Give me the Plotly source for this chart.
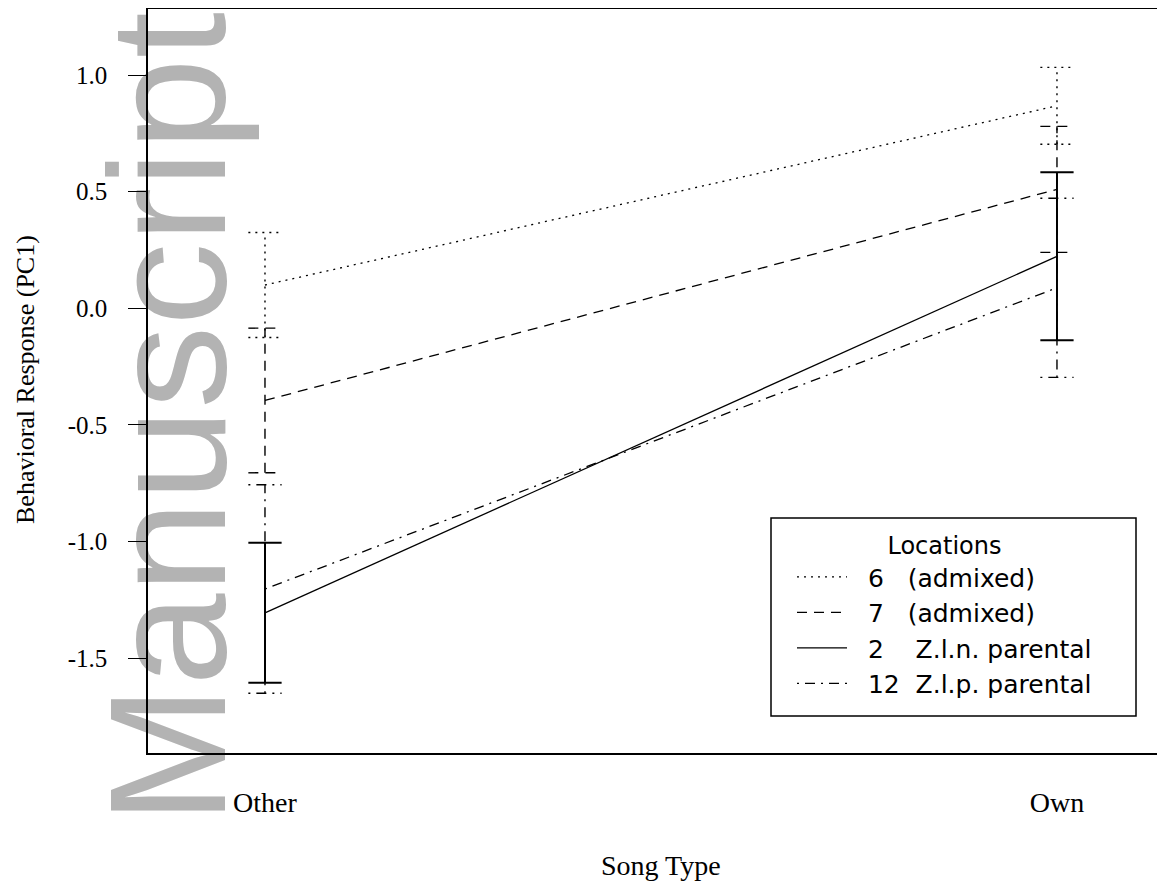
import plotly.graph_objects as go

# ---- data ----
song_types = ["Other", "Own"]
x_pos = [1, 2]
series_names = ["\u00a0\u00a06\u00a0\u00a0\u00a0(admixed)",
                "\u00a0\u00a07\u00a0\u00a0\u00a0(admixed)",
                "\u00a0\u00a02\u00a0\u00a0\u00a0\u00a0Z.l.n. parental",
                "\u00a0\u00a012\u00a0\u00a0Z.l.p. parental"]
loc6_mean = [0.10, 0.868]
loc6_err = [0.225, 0.165]
loc7_mean = [-0.395, 0.51]
loc7_err = [0.31, 0.27]
loc2_mean = [-1.305, 0.223]
loc2_err = [0.30, 0.36]
loc12_mean = [-1.203, 0.088]
loc12_err = [0.447, 0.384]
y_ticks = [-1.5, -1.0, -0.5, 0.0, 0.5, 1.0]

means = [loc6_mean, loc7_mean, loc2_mean, loc12_mean]
errs = [loc6_err, loc7_err, loc2_err, loc12_err]
dashes = ["2px,5px", "10px,7px", "solid", "2px,6px,10px,6px"]
ebar_w = [1.4, 1.4, 2.0, 1.4]
CAP = 0.021

SERIF = "Liberation Serif, Times New Roman, serif"
SANS = "DejaVu Sans, Arial, sans-serif"

# page body has an 8px margin: work in screenshot pixels and convert
OFF = 8
W, H = 1165 - OFF, 884 - OFF
L, R, T, B = 140, 0, 1, 131
PW, PH = W - L - R, H - T - B


def px(x):
    return (x - OFF - L) / PW


def py(y):
    return (H - B - (y - OFF)) / PH


fig = go.Figure()

# error bars drawn as line traces so they keep each series' dash style
for m, e, d, w in zip(means, errs, dashes, ebar_w):
    xs, ys = [], []
    for xi, mi, ei in zip(x_pos, m, e):
        lo, hi = mi - ei, mi + ei
        xs += [xi, xi, None, xi - CAP, xi + CAP, None, xi - CAP, xi + CAP, None]
        ys += [lo, hi, None, hi, hi, None, lo, lo, None]
    fig.add_trace(go.Scatter(x=xs, y=ys, mode="lines", showlegend=False,
                             hoverinfo="skip",
                             line=dict(color="black", width=w, dash=d)))

for name, m, d in zip(series_names, means, dashes):
    fig.add_trace(go.Scatter(x=x_pos, y=m, mode="lines", name=name,
                             line=dict(color="black", width=1.3, dash=d)))

fig.update_layout(
    width=W, height=H,
    margin=dict(l=L, r=R, t=T, b=B),
    paper_bgcolor="white", plot_bgcolor="white",
    showlegend=True,
    legend=dict(
        x=px(792), y=py(523),
        xanchor="left", yanchor="top",
        borderwidth=0, bgcolor="rgba(0,0,0,0)",
        font=dict(family=SANS, size=25, color="black"),
        title=dict(text="Locations", side="top center",
                   font=dict(family=SANS, size=24, color="black")),
        itemwidth=50, tracegroupgap=0,
    ),
    xaxis=dict(
        range=[0.8523, 2.1364], tickvals=x_pos, ticktext=song_types,
        showline=True, mirror=True, linecolor="black", linewidth=1.5,
        showgrid=False, zeroline=False, ticks="",
        tickfont=dict(family=SERIF, size=28, color="black"),
        ticklabelstandoff=24,
    ),
    yaxis=dict(
        range=[-1.906, 1.283], tickvals=y_ticks,
        ticktext=[f"{v:.1f}" for v in y_ticks],
        showline=True, linecolor="black", linewidth=1.5,
        showgrid=False, zeroline=False,
        ticks="outside", ticklen=18, tickwidth=1.3, tickcolor="black",
        tickfont=dict(family=SERIF, size=25, color="black"),
        ticklabelstandoff=16,
    ),
    shapes=[
        dict(type="rect", xref="paper", yref="paper", layer="below",
             x0=px(92), x1=px(210), y0=py(826), y1=py(10),
             line=dict(width=0), fillcolor="rgba(0,0,0,0)",
             label=dict(text="Manuscript", textangle=-90,
                        textposition="middle center",
                        font=dict(family="Liberation Sans, Arial, sans-serif",
                                  size=166, color="#b3b3b3"))),
        dict(type="rect", xref="paper", yref="paper", layer="above",
             x0=px(771), x1=px(1136), y0=py(716), y1=py(518),
             line=dict(color="black", width=1.5), fillcolor="white"),
    ],
    annotations=[
        dict(text="Song Type", xref="paper", yref="paper",
             x=px(661), y=py(865),
             xanchor="center", yanchor="middle", showarrow=False,
             font=dict(family=SERIF, size=28, color="black")),
        dict(text="Behavioral Response (PC1)", xref="paper", yref="paper",
             x=px(25), y=py(380),
             xanchor="center", yanchor="middle", showarrow=False, textangle=-90,
             font=dict(family=SERIF, size=26, color="black")),
    ],
)

fig.write_html("out.html")
